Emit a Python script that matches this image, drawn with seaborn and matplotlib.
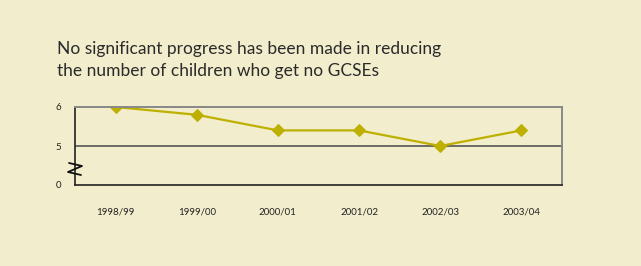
import matplotlib
matplotlib.use("Agg")
import matplotlib.pyplot as plt
import seaborn as sns
import pandas as pd

years = ["1998/99", "1999/00", "2000/01", "2001/02", "2002/03", "2003/04"]
values = [6.0, 5.8, 5.4, 5.4, 5.0, 5.4]
ytick_labels = ["0", "5", "6"]

title = "No significant progress has been made in reducing\nthe number of children who get no GCSEs"

BG = "#F2EDCC"
LINE = "#BDB000"

sns.set_theme(style="white")
plt.rcParams["font.family"] = ["Lato", "DejaVu Sans"]

fig = plt.figure(figsize=(6.41, 2.66), dpi=100, facecolor=BG)
ax = fig.add_axes([75 / 641, 1 - 185 / 266, (562 - 75) / 641, (185 - 107) / 266])
ax.set_facecolor(BG)

df = pd.DataFrame({"year": years, "value": values, "x": range(len(years))})
sns.lineplot(data=df, x="x", y="value", ax=ax, color=LINE, linewidth=1.6,
             marker="D", markersize=6, markeredgecolor=LINE)

ax.set_xlim(-0.5, len(years) - 0.5)
ax.set_ylim(4, 6)
ax.set_yticks([4, 5, 6])
ax.set_yticklabels(ytick_labels, fontsize=7, color="#222222")
ax.set_xticks([i - 0.5 for i in range(len(years) + 1)])
ax.set_xticklabels([])
ax.set_xticks(range(len(years)), minor=True)
ax.set_xticklabels(years, minor=True, fontsize=7, color="#222222")
ax.tick_params(axis="x", which="major", length=5, width=1, color="#333333", direction="out", pad=2)
ax.tick_params(axis="x", which="minor", length=0, pad=16)
ax.tick_params(axis="y", length=4, width=1, color="#333333", direction="out", pad=6)
ax.set_xlabel("")
ax.set_ylabel("")

ax.axhline(5, color="#555555", linewidth=1.2, zorder=1)
for s in ["left", "bottom"]:
    ax.spines[s].set_color("#222222")
    ax.spines[s].set_linewidth(1.2)
for s in ["top", "right"]:
    ax.spines[s].set_color("#888888")
    ax.spines[s].set_linewidth(1.4)
    ax.spines[s].set_visible(True)

# axis break zigzag
zx = [69, 82, 68, 81]
zy = [163, 166, 172, 175]
fig.lines.append(plt.Line2D([x / 641 for x in zx], [1 - y / 266 for y in zy],
                            transform=fig.transFigure, color="#111111", linewidth=1.3))

fig.text(57 / 641, 1 - 41 / 266, title, fontsize=12.5, color="#2a2a2a",
         va="top", ha="left", linespacing=1.45)

fig.savefig("out.png", dpi=100, facecolor=BG)
